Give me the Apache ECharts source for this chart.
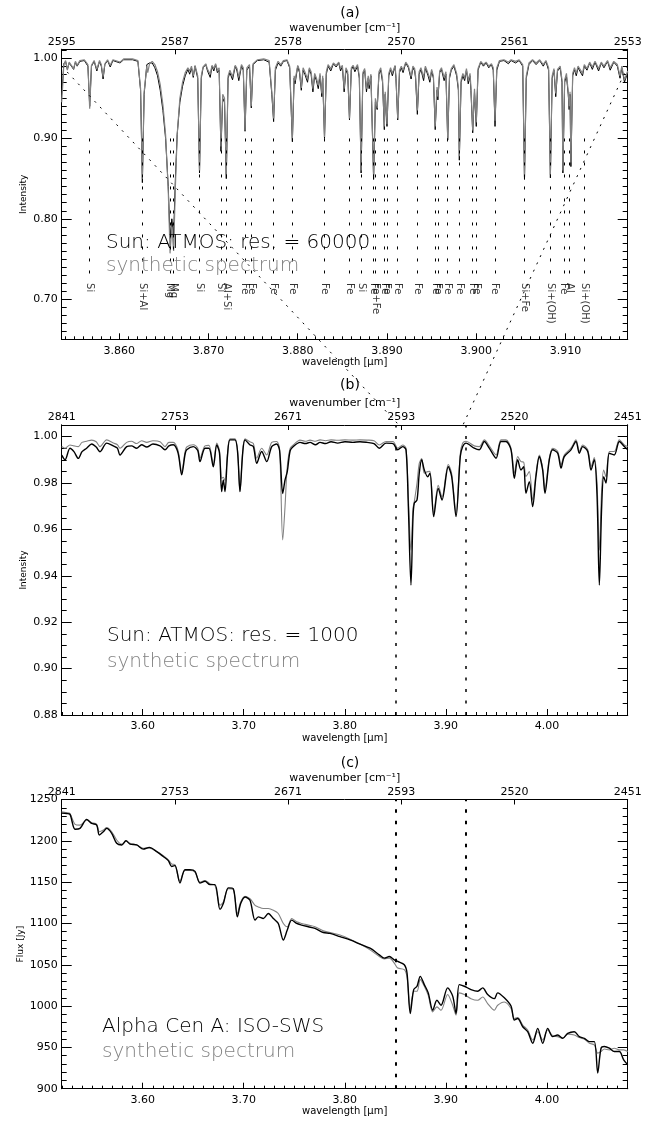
<!DOCTYPE html>
<html>
<head>
<meta charset="utf-8">
<script src="https://cdn.jsdelivr.net/npm/echarts@6/dist/echarts.min.js"></script>
<style>
html, body { margin: 0; padding: 0; background: #fff; }
#chart { width: 662px; height: 1125px; }
</style>
</head>
<body>
<div id="chart"></div>
<script>
// ---------- (a) Sun, ATMOS at res. 60000 ----------
const wnA = [2595, 2553];                       // wavenumber limits of panel (a), cm^-1
const topTicksA = [2595, 2587, 2578, 2570, 2561, 2553];
const lamA = [3.85356,3.8537,3.8538,3.8540,3.8542,3.8544,3.8546,3.8549,3.8551,3.8553,3.8556,3.8561,3.8565,3.8567,3.8569,3.8572,3.8575,3.8578,3.8580,3.8582,3.8584,3.8587,3.8590,3.8593,3.8601,3.8605,3.8615,3.8621,3.8624,3.8626,3.8628,3.8631,3.8632,3.8634,3.8637,3.8640,3.8643,3.8646,3.8649,3.8652,3.8655,3.8657,3.8659,3.8661,3.8663,3.8665,3.8668,3.8671,3.8674,3.8677,3.8679,3.8681,3.8683,3.8685,3.8688,3.8690,3.8692,3.8694,3.8697,3.8699,3.8702,3.8704,3.8706,3.8708,3.8710,3.8712,3.8714,3.8716,3.8718,3.8720,3.8722,3.8724,3.8727,3.8730,3.8732,3.8734,3.8737,3.8739,3.8741,3.8743,3.8746,3.8748,3.8750,3.8755,3.8762,3.8768,3.8771,3.8773,3.8775,3.8778,3.8781,3.8784,3.8788,3.8791,3.8794,3.8796,3.8797,3.8800,3.8802,3.8804,3.8806,3.8808,3.8811,3.8813,3.8815,3.8817,3.8819,3.8821,3.8823,3.8825,3.8827,3.8828,3.8830,3.8832,3.8834,3.8837,3.8840,3.8843,3.8846,3.8848,3.8850,3.8852,3.8854,3.8856,3.8858,3.8860,3.8862,3.8864,3.8867,3.8869,3.8871,3.8873,3.8875,3.8877,3.8879,3.8880,3.8882,3.8885,3.8887,3.8889,3.8891,3.8893,3.8895,3.8897,3.8898,3.8900,3.8902,3.8904,3.8906,3.8909,3.8910,3.8912,3.8914,3.8916,3.8918,3.8921,3.8924,3.8927,3.8929,3.8931,3.8932,3.8934,3.8936,3.8938,3.8941,3.8943,3.8946,3.8948,3.8950,3.8952,3.8954,3.8956,3.8957,3.8959,3.8961,3.8964,3.8966,3.8968,3.8970,3.8972,3.8975,3.8978,3.8980,3.8981,3.8983,3.8985,3.8987,3.8989,3.8991,3.8993,3.8994,3.8996,3.8998,3.9000,3.9002,3.9005,3.9008,3.9011,3.9014,3.9017,3.9019,3.9021,3.9023,3.9026,3.9031,3.9036,3.9039,3.9044,3.9048,3.9052,3.9054,3.9056,3.9059,3.9063,3.9067,3.9071,3.9075,3.9078,3.9081,3.9083,3.9085,3.9087,3.9089,3.9091,3.9094,3.9096,3.9097,3.9099,3.9101,3.9103,3.9104,3.9105,3.9106,3.9108,3.9110,3.9112,3.9114,3.9116,3.9119,3.9121,3.9124,3.9127,3.9130,3.9133,3.9137,3.9140,3.9143,3.9147,3.9150,3.9154,3.9158,3.9161,3.9163,3.9166,3.91696];
const obsA = [0.955,0.975,0.993,0.996,0.986,0.994,0.992,0.986,0.995,0.990,0.996,0.997,0.990,0.940,0.990,0.996,0.984,0.996,0.990,0.974,0.992,0.997,0.989,0.997,0.994,0.998,0.998,0.996,0.960,0.845,0.955,0.992,0.990,0.994,0.994,0.988,0.978,0.960,0.935,0.900,0.840,0.775,0.800,0.780,0.850,0.905,0.945,0.965,0.978,0.986,0.980,0.988,0.976,0.990,0.975,0.857,0.975,0.988,0.992,0.984,0.976,0.990,0.984,0.992,0.982,0.985,0.884,0.950,0.945,0.850,0.975,0.982,0.973,0.990,0.984,0.972,0.990,0.985,0.909,0.985,0.990,0.938,0.992,0.997,0.998,0.995,0.955,0.921,0.985,0.994,0.990,0.996,0.997,0.988,0.896,0.975,0.968,0.990,0.982,0.960,0.985,0.980,0.970,0.986,0.980,0.958,0.978,0.972,0.962,0.978,0.952,0.975,0.900,0.980,0.990,0.984,0.993,0.989,0.994,0.984,0.990,0.958,0.985,0.980,0.923,0.985,0.990,0.983,0.990,0.975,0.857,0.980,0.985,0.958,0.975,0.962,0.978,0.849,0.945,0.936,0.980,0.985,0.970,0.911,0.955,0.915,0.978,0.986,0.978,0.990,0.975,0.923,0.982,0.988,0.982,0.994,0.988,0.974,0.988,0.984,0.975,0.930,0.980,0.986,0.972,0.988,0.978,0.970,0.984,0.975,0.911,0.960,0.948,0.982,0.986,0.972,0.980,0.898,0.975,0.985,0.990,0.978,0.960,0.873,0.970,0.978,0.972,0.985,0.968,0.978,0.960,0.907,0.958,0.915,0.985,0.995,0.990,0.994,0.988,0.992,0.985,0.915,0.985,0.996,0.997,0.993,0.997,0.994,0.997,0.990,0.849,0.975,0.992,0.997,0.992,0.997,0.990,0.996,0.985,0.851,0.975,0.985,0.952,0.984,0.988,0.970,0.857,0.970,0.978,0.955,0.936,0.955,0.865,0.978,0.986,0.978,0.988,0.990,0.978,0.990,0.985,0.994,0.986,0.995,0.984,0.994,0.988,0.996,0.985,0.995,0.990,0.975,0.988,0.970,0.982];
const synA = [0.945,0.970,0.992,0.997,0.985,0.995,0.993,0.987,0.996,0.991,0.997,0.998,0.992,0.937,0.991,0.997,0.986,0.997,0.992,0.977,0.993,0.998,0.991,0.998,0.995,0.999,0.999,0.997,0.962,0.850,0.958,0.990,0.982,0.993,0.996,0.992,0.983,0.967,0.942,0.905,0.835,0.757,0.790,0.760,0.840,0.905,0.950,0.970,0.982,0.988,0.984,0.990,0.978,0.991,0.978,0.860,0.978,0.989,0.993,0.986,0.980,0.991,0.987,0.993,0.985,0.988,0.890,0.955,0.950,0.855,0.978,0.985,0.977,0.991,0.987,0.976,0.992,0.988,0.910,0.988,0.992,0.940,0.993,0.998,0.999,0.997,0.958,0.925,0.988,0.996,0.992,0.997,0.998,0.990,0.900,0.978,0.972,0.991,0.985,0.963,0.988,0.983,0.974,0.988,0.983,0.962,0.981,0.975,0.966,0.981,0.956,0.978,0.902,0.983,0.992,0.987,0.994,0.991,0.995,0.987,0.991,0.962,0.988,0.983,0.925,0.988,0.991,0.986,0.992,0.978,0.860,0.982,0.987,0.962,0.978,0.966,0.980,0.855,0.950,0.938,0.983,0.988,0.974,0.915,0.958,0.918,0.981,0.988,0.981,0.991,0.978,0.925,0.985,0.990,0.985,0.995,0.990,0.977,0.990,0.987,0.978,0.935,0.983,0.988,0.976,0.990,0.981,0.974,0.986,0.978,0.915,0.964,0.952,0.984,0.988,0.976,0.983,0.900,0.978,0.987,0.992,0.981,0.963,0.878,0.973,0.981,0.975,0.987,0.972,0.981,0.964,0.910,0.962,0.920,0.987,0.996,0.992,0.995,0.990,0.993,0.988,0.922,0.988,0.997,0.998,0.995,0.998,0.996,0.998,0.992,0.852,0.978,0.994,0.998,0.994,0.998,0.992,0.997,0.988,0.855,0.978,0.987,0.956,0.986,0.990,0.973,0.860,0.973,0.981,0.958,0.940,0.958,0.870,0.981,0.988,0.981,0.990,0.992,0.981,0.992,0.987,0.995,0.989,0.996,0.987,0.995,0.990,0.997,0.988,0.996,0.992,0.978,0.990,0.973,0.984];
// identified absorption lines
const lineLam = [3.8567,3.8626,3.8657,3.8661,3.8690,3.8714,3.8720,3.8741,3.8748,3.8773,3.8794,3.8830,3.8858,3.8871,3.8885,3.8887,3.8897,3.8900,3.8912,3.8934,3.8954,3.8957,3.8968,3.8981,3.8996,3.9000,3.9021,3.9054,3.9083,3.9098,3.9104,3.9121];
const lineNames = ['Si','Si+Al','Mg','Mg','Si','Si','Al+Si','Fe','Fe','Fe','Fe','Fe','Fe','Si','Fe','Fe+Fe','Fe','Fe','Fe','Fe','Fe','Fe','Fe','Fe','Fe','Fe','Fe','Si+Fe','Si+(OH)','Fe','Al','Si+(OH)'];

// ---------- (b) Sun, ATMOS at res. 1000 ----------
const wnBC = [2841, 2451];
const topTicksBC = [2841, 2753, 2671, 2593, 2520, 2451];
const lamB = [3.5199,3.5232,3.5281,3.5320,3.5363,3.5400,3.5446,3.5496,3.5540,3.5578,3.5644,3.5710,3.5750,3.5776,3.5842,3.5890,3.5940,3.5990,3.6040,3.6102,3.6172,3.6221,3.6260,3.6303,3.6350,3.6386,3.6420,3.6436,3.6501,3.6545,3.6567,3.6617,3.6656,3.6699,3.6733,3.6760,3.6782,3.6798,3.6815,3.6840,3.6864,3.6914,3.6940,3.6963,3.6990,3.7013,3.7060,3.7095,3.7129,3.7178,3.7228,3.7277,3.7326,3.7355,3.7386,3.7409,3.7431,3.7460,3.7491,3.7557,3.7610,3.7656,3.7710,3.7755,3.7810,3.7864,3.7930,3.8002,3.8080,3.8151,3.8220,3.8289,3.8342,3.8408,3.8477,3.8524,3.8573,3.8606,3.8629,3.8655,3.8675,3.8688,3.8715,3.8737,3.8761,3.8787,3.8821,3.8843,3.8880,3.8925,3.8962,3.9024,3.9058,3.9101,3.9143,3.9167,3.9200,3.9281,3.9331,3.9381,3.9430,3.9497,3.9546,3.9595,3.9645,3.9678,3.9711,3.9744,3.9770,3.9793,3.9826,3.9859,3.9892,3.9925,3.9958,3.9981,4.0024,4.0057,4.0107,4.0140,4.0172,4.0238,4.0288,4.0321,4.0354,4.0404,4.0437,4.0469,4.0496,4.0519,4.0542,4.0562,4.0585,4.0618,4.0667,4.0717,4.0766,4.0800];
const obsB = [0.9920,0.9900,0.9950,0.9935,0.9906,0.9935,0.9950,0.9968,0.9955,0.9935,0.9972,0.9960,0.9950,0.9921,0.9957,0.9960,0.9950,0.9965,0.9955,0.9968,0.9960,0.9943,0.9960,0.9965,0.9930,0.9835,0.9925,0.9943,0.9957,0.9940,0.9892,0.9950,0.9950,0.9870,0.9964,0.9930,0.9763,0.9813,0.9763,0.9920,0.9986,0.9986,0.9930,0.9763,0.9930,0.9986,0.9965,0.9957,0.9885,0.9936,0.9892,0.9957,0.9968,0.9940,0.9755,0.9813,0.9849,0.9940,0.9957,0.9975,0.9970,0.9975,0.9965,0.9975,0.9970,0.9978,0.9972,0.9978,0.9975,0.9978,0.9975,0.9970,0.9950,0.9972,0.9970,0.9943,0.9957,0.9943,0.9700,0.9360,0.9650,0.9713,0.9727,0.9842,0.9900,0.9856,0.9827,0.9842,0.9655,0.9777,0.9727,0.9870,0.9827,0.9655,0.9914,0.9957,0.9972,0.9950,0.9943,0.9979,0.9950,0.9907,0.9979,0.9979,0.9943,0.9820,0.9900,0.9856,0.9870,0.9756,0.9806,0.9698,0.9828,0.9914,0.9856,0.9756,0.9900,0.9943,0.9928,0.9864,0.9914,0.9943,0.9979,0.9928,0.9957,0.9936,0.9856,0.9900,0.9750,0.9360,0.9698,0.9827,0.9800,0.9928,0.9921,0.9979,0.9957,0.9943];
const synB = [0.9957,0.9950,0.9964,0.9960,0.9957,0.9975,0.9980,0.9985,0.9978,0.9957,0.9986,0.9972,0.9965,0.9950,0.9975,0.9980,0.9970,0.9982,0.9975,0.9982,0.9978,0.9957,0.9975,0.9975,0.9940,0.9849,0.9935,0.9955,0.9965,0.9950,0.9907,0.9960,0.9962,0.9880,0.9972,0.9940,0.9820,0.9825,0.9810,0.9930,0.9990,0.9990,0.9935,0.9763,0.9935,0.9990,0.9978,0.9970,0.9907,0.9950,0.9921,0.9975,0.9979,0.9945,0.9554,0.9700,0.9870,0.9950,0.9964,0.9985,0.9980,0.9985,0.9980,0.9986,0.9982,0.9986,0.9984,0.9986,0.9985,0.9986,0.9985,0.9982,0.9964,0.9979,0.9979,0.9950,0.9964,0.9950,0.9740,0.9510,0.9690,0.9720,0.9800,0.9885,0.9905,0.9842,0.9849,0.9850,0.9670,0.9790,0.9740,0.9880,0.9840,0.9670,0.9925,0.9972,0.9980,0.9960,0.9957,0.9986,0.9960,0.9921,0.9986,0.9986,0.9950,0.9842,0.9914,0.9892,0.9890,0.9828,0.9849,0.9727,0.9840,0.9921,0.9864,0.9770,0.9907,0.9950,0.9936,0.9878,0.9921,0.9950,0.9986,0.9936,0.9964,0.9943,0.9871,0.9910,0.9800,0.9510,0.9770,0.9856,0.9827,0.9936,0.9936,0.9986,0.9964,0.9957];

// ---------- (c) Alpha Cen A, ISO-SWS ----------
const lamC = [3.5199,3.5248,3.5281,3.5331,3.5380,3.5446,3.5496,3.5545,3.5571,3.5611,3.5644,3.5694,3.5743,3.5793,3.5835,3.5875,3.5941,3.6006,3.6066,3.6139,3.6204,3.6254,3.6287,3.6320,3.6369,3.6419,3.6468,3.6518,3.6567,3.6617,3.6666,3.6716,3.6765,3.6798,3.6848,3.6897,3.6937,3.6970,3.7013,3.7062,3.7112,3.7144,3.7194,3.7243,3.7293,3.7342,3.7392,3.7431,3.7475,3.7524,3.7574,3.7639,3.7705,3.7788,3.7854,3.7953,3.8052,3.8151,3.8250,3.8342,3.8391,3.8441,3.8490,3.8524,3.8589,3.8616,3.8648,3.8682,3.8715,3.8747,3.8787,3.8826,3.8870,3.8912,3.8952,3.9018,3.9068,3.9101,3.9133,3.9183,3.9249,3.9315,3.9365,3.9414,3.9480,3.9513,3.9579,3.9645,3.9678,3.9711,3.9761,3.9810,3.9860,3.9909,3.9959,4.0008,4.0057,4.0107,4.0156,4.0206,4.0271,4.0321,4.0370,4.0420,4.0469,4.0503,4.0536,4.0569,4.0618,4.0667,4.0717,4.0760,4.0800];
const obsC = [1233.5,1233,1232,1214,1215,1226,1221,1219,1207,1211,1215,1209,1197,1195,1200,1196,1195,1190,1192,1187,1181,1176,1169,1170,1149,1165,1165,1163,1149,1151,1147,1147,1117,1124,1143,1142,1108,1124,1132,1128,1104,1108,1106,1112,1106,1100,1080,1092,1104,1100,1098,1096,1094,1089,1088,1084,1080,1075,1070,1062,1058,1060,1056,1054,1050,1040,991,1020,1024,1036,1026,1016,995,1007,1001,1022,1012,991,1026,1024,1020,1018,1022,1014,1009,1016,1010,1000,983,985,975,969,955,973,955,973,963,965,961,967,969,963,961,957,957,919,949,951,949,945,945,935,929];
const synC = [1235,1234,1233,1220,1219,1225,1222,1220,1211,1213,1216,1211,1201,1196,1200,1197,1195,1191,1191,1187,1182,1177,1172,1171,1151,1164,1164,1162,1150,1152,1148,1146,1122,1126,1142,1141,1112,1126,1133,1130,1122,1120,1118,1118,1116,1112,1100,1096,1106,1102,1100,1098,1096,1091,1089,1086,1081,1075,1068,1060,1057,1058,1052,1046,1044,1035,995,1018,1018,1032,1024,1013,993,999,995,1014,1001,989,1016,1014,1009,1007,1011,1003,995,1001,1005,997,985,986,977,971,959,969,959,971,964,963,961,966,965,962,960,955,953,943,945,948,947,949,947,947,945];

// ---------- layout and styling ----------
const FONT = '"DejaVu Sans", sans-serif';
const INK = '#000';
const GREY = '#828282';
const PLOT_LEFT = 61.7, PLOT_RIGHT = 34.3;

const grids = [], xAxis = [], yAxis = [], series = [];

// label only values lying on the major step (edges of a fixed range are skipped)
function onStep(iv, digits) {
  return v => {
    const k = v / iv;
    return Math.abs(k - Math.round(k)) < 1e-6 ? v.toFixed(digits) : '';
  };
}

function axisBase(gridIndex, position, min, max, iv, tickLen) {
  return {
    type: 'value', gridIndex, position, min, max,
    minInterval: iv, maxInterval: iv,
    splitNumber: Math.max(1, Math.round((max - min) / iv)),
    axisLine: { show: true, onZero: false, lineStyle: { color: INK, width: 1 } },
    axisTick: { show: true, inside: true, length: tickLen, lineStyle: { color: INK, width: 1 } },
    axisLabel: { show: false },
    splitLine: { show: false },
    minorTick: { show: false },
    minorSplitLine: { show: false },
    silent: true
  };
}

const labelFont = { color: INK, fontFamily: FONT, fontSize: 11 };

function addPanel(p) {
  const g = grids.length;
  grids.push({ left: PLOT_LEFT, right: PLOT_RIGHT, top: p.top, height: p.height,
               containLabel: false, outerBoundsMode: 'none' });
  const xi = xAxis.length;
  xAxis.push(Object.assign(axisBase(g, 'bottom', p.xMin, p.xMax, p.xMajor, 6), {
    axisLabel: Object.assign({ show: true, margin: 6, formatter: onStep(p.xMajor, p.xDigits) }, labelFont),
    name: 'wavelength [\u03bcm]', nameLocation: 'middle', nameGap: 18, nameMoveOverlap: false,
    nameTextStyle: { color: INK, fontFamily: FONT, fontSize: 10 }
  }));
  xAxis.push(axisBase(g, 'bottom', p.xMin, p.xMax, p.xMinor, 3));
  xAxis.push(Object.assign(axisBase(g, 'top', 0, p.topLabels.length - 1, 1, 5), {
    axisLabel: Object.assign({ show: true, margin: 2,
      formatter: v => String(p.topLabels[Math.round(v)]) }, labelFont),
    name: 'wavenumber [cm\u207b\u00b9]', nameLocation: 'middle', nameGap: 16, nameMoveOverlap: false,
    nameTextStyle: { color: INK, fontFamily: FONT, fontSize: 11 }
  }));
  const yi = yAxis.length;
  yAxis.push(Object.assign(axisBase(g, 'left', p.yMin, p.yMax, p.yMajor, 10), {
    axisLabel: Object.assign({ show: true, margin: 4, formatter: onStep(p.yMajor, p.yDigits) }, labelFont),
    name: p.yName, nameLocation: 'middle', nameRotate: 90, nameGap: p.yNameGap, nameMoveOverlap: false,
    nameTextStyle: { color: INK, fontFamily: FONT, fontSize: 9 }
  }));
  yAxis.push(axisBase(g, 'left', p.yMin, p.yMax, p.yMinor, 5));
  yAxis.push(axisBase(g, 'right', p.yMin, p.yMax, p.yMajor, 10));
  yAxis.push(axisBase(g, 'right', p.yMin, p.yMax, p.yMinor, 5));
  return { x: xi, y: yi };
}

function spectrum(ax, lam, vals, color, width, z, extra) {
  return Object.assign({
    type: 'line', xAxisIndex: ax.x, yAxisIndex: ax.y,
    data: lam.map((l, i) => [l, vals[i]]),
    symbol: 'none', showSymbol: false, smooth: false, silent: true, z,
    lineStyle: { color, width }
  }, extra || {});
}

const A = addPanel({ top: 49.3, height: 290,
  xMin: 1e4 / wnA[0], xMax: 1e4 / wnA[1], xMajor: 0.01, xMinor: 0.001, xDigits: 3,
  yMin: 0.65, yMax: 1.011, yMajor: 0.1, yMinor: 0.01, yDigits: 2,
  topLabels: topTicksA, yName: 'Intensity', yNameGap: 34 });
const B = addPanel({ top: 425, height: 290,
  xMin: 1e4 / wnBC[0], xMax: 1e4 / wnBC[1], xMajor: 0.1, xMinor: 0.01, xDigits: 2,
  yMin: 0.88, yMax: 1.005, yMajor: 0.02, yMinor: 0.005, yDigits: 2,
  topLabels: topTicksBC, yName: 'Intensity', yNameGap: 34 });
const C = addPanel({ top: 799.5, height: 289.2,
  xMin: 1e4 / wnBC[0], xMax: 1e4 / wnBC[1], xMajor: 0.1, xMinor: 0.01, xDigits: 2,
  yMin: 900, yMax: 1250, yMajor: 50, yMinor: 10, yDigits: 0,
  topLabels: topTicksBC, yName: 'Flux [Jy]', yNameGap: 37 });

// panel (a): observed under synthetic, plus line identifications
series.push(spectrum(A, lamA, obsA, INK, 1, 2));
series.push(spectrum(A, lamA, synA, GREY, 1.2, 3));
series.push({
  type: 'scatter', xAxisIndex: A.x, yAxisIndex: A.y, silent: true, z: 4,
  data: lineLam.map(l => [l, 0.72]),
  symbolSize: 1, itemStyle: { color: 'rgba(0,0,0,0)' },
  label: { show: true, position: 'inside', rotate: -90, align: 'left', verticalAlign: 'middle',
           formatter: p => lineNames[p.dataIndex], color: INK, fontFamily: FONT, fontSize: 10 },
  markLine: {
    silent: true, symbol: ['none', 'none'], label: { show: false },
    lineStyle: { color: INK, width: 1, type: [3, 9] },
    data: lineLam.map(l => [{ coord: [l, 0.90] }, { coord: [l, 0.73] }])
  }
});

// zoom window of (a) marked in (b) and (c)
function zoomMarks(width, dash) {
  return {
    silent: true, symbol: ['none', 'none'], label: { show: false },
    lineStyle: { color: INK, width, type: dash },
    data: wnA.map(w => ({ xAxis: 1e4 / w }))
  };
}
// the low-resolution spectra are drawn as rounded curves
const soft = { smooth: 0.3 };
series.push(spectrum(B, lamB, synB, GREY, 1.1, 2, soft));
series.push(spectrum(B, lamB, obsB, INK, 1.4, 3, Object.assign({ markLine: zoomMarks(1.5, [3, 8.5]) }, soft)));
series.push(spectrum(C, lamC, synC, GREY, 1.1, 2, soft));
series.push(spectrum(C, lamC, obsC, INK, 1.4, 3, Object.assign({ markLine: zoomMarks(2, [3.5, 8]) }, soft)));

const chart = echarts.init(document.getElementById('chart'), null, { renderer: 'canvas' });
chart.setOption({ animation: false, backgroundColor: '#fff', grid: grids, xAxis, yAxis, series });

function text(x, y, s, size, color, align, weight) {
  return {
    type: 'text', x, y, silent: true, z: 10,
    style: { text: s, fill: color, fontFamily: FONT, fontSize: size, fontWeight: weight || 'normal',
             align: align || 'left', verticalAlign: 'middle',
             textAlign: align || 'left', textVerticalAlign: 'middle' }
  };
}

const texts = [
  text(350, 13, '(a)', 14, INK, 'center'),
  text(350, 385, '(b)', 14, INK, 'center'),
  text(350, 763, '(c)', 14, INK, 'center'),
  text(106, 243, 'Sun: ATMOS: res. = 60000', 20, INK, 'left', 200),
  text(106, 266, 'synthetic spectrum', 20, GREY, 'left', 200),
  text(107, 636, 'Sun: ATMOS: res. = 1000', 20, INK, 'left', 200),
  text(107, 662, 'synthetic spectrum', 20, GREY, 'left', 200),
  text(102, 1027, 'Alpha Cen A: ISO-SWS', 20, INK, 'left', 200),
  text(102, 1052, 'synthetic spectrum', 20, GREY, 'left', 200)
];

// dotted connectors from the edges of (a) down to the window marks in (b)
const px = (ax, v) => chart.convertToPixel({ xAxisIndex: ax.x, yAxisIndex: ax.y }, v);
const connectors = wnA.map(w => {
  const lam = 1e4 / w;
  const p0 = px(A, [lam, 0.99]);
  const p1 = px(B, [lam, 1.005]);
  return { type: 'line', silent: true, z: 10,
           shape: { x1: p0[0], y1: p0[1], x2: p1[0], y2: p1[1] },
           style: { stroke: INK, lineWidth: 1, lineDash: [2, 6] } };
});

chart.setOption({ graphic: { elements: texts.concat(connectors) } });
</script>
</body>
</html>
